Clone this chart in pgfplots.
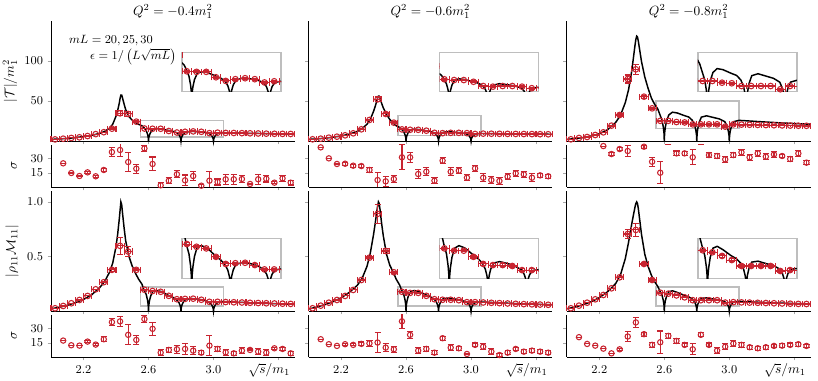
\documentclass[border=0pt]{standalone}
\usepackage{pgfplots}
\usepackage{pgfplotstable}
\pgfplotsset{compat=1.18}
\definecolor{myred}{RGB}{200,36,48}
\definecolor{boxgray}{RGB}{190,190,190}

% ---------- curves (x, value) ----------
\pgfplotstableread[row sep=\\]{x y\\
2.00 2.0\\ 2.05 2.5\\ 2.10 3.2\\ 2.15 4.2\\ 2.20 5.5\\ 2.25 7.0\\ 2.30 9.5\\ 2.33 12.0\\ 2.36 16.0\\ 2.38 21.0\\ 2.40 31.0\\ 2.41 38.0\\ 2.42 47.0\\ 2.425 53.0\\ 2.43 57.5\\ 2.435 57.5\\ 2.44 54.0\\ 2.45 46.0\\ 2.46 39.0\\ 2.48 30.5\\ 2.50 26.0\\ 2.52 23.0\\ 2.54 20.8\\ 2.56 19.0\\
2.572 16.7\\ 2.586 13.0\\ 2.594 8.6\\ 2.598 5.0\\ 2.600 0\\ 2.602 4.3\\ 2.606 7.4\\ 2.614 11.2\\ 2.628 14.4\\ 2.65 15.4\\ 2.68 15.0\\ 2.72 13.3\\ 2.75 12.0\\
2.772 10.5\\ 2.786 8.1\\ 2.794 5.4\\ 2.798 3.2\\ 2.800 0\\ 2.802 3.3\\ 2.806 5.7\\ 2.814 8.5\\ 2.828 11.0\\ 2.86 12.0\\ 2.90 11.7\\ 2.94 11.0\\
2.972 9.6\\ 2.986 7.4\\ 2.994 4.9\\ 2.998 2.9\\ 3.000 0\\ 3.002 2.9\\ 3.006 5.0\\ 3.014 7.6\\ 3.028 9.8\\ 3.06 10.4\\ 3.10 10.2\\ 3.20 9.7\\ 3.30 9.3\\ 3.40 9.0\\ 3.50 8.7\\
}\cTa
\pgfplotstableread[row sep=\\]{x y\\
2.00 2.0\\ 2.05 2.6\\ 2.10 3.5\\ 2.15 4.7\\ 2.20 6.3\\ 2.25 8.5\\ 2.30 12.0\\ 2.33 15.5\\ 2.36 21.0\\ 2.38 27.0\\ 2.40 37.0\\ 2.41 43.0\\ 2.42 50.0\\ 2.425 53.5\\ 2.43 56.0\\ 2.435 56.0\\ 2.44 53.5\\ 2.45 47.0\\ 2.46 41.5\\ 2.48 33.0\\ 2.50 27.0\\ 2.52 22.5\\ 2.54 19.0\\ 2.56 17.0\\
2.572 14.9\\ 2.586 11.5\\ 2.594 7.7\\ 2.598 4.5\\ 2.600 0\\ 2.602 4.2\\ 2.606 7.2\\ 2.614 10.8\\ 2.628 14.0\\ 2.65 14.8\\ 2.68 14.3\\ 2.72 13.0\\ 2.75 12.0\\
2.772 10.4\\ 2.786 8.1\\ 2.794 5.4\\ 2.798 3.1\\ 2.800 0\\ 2.802 3.2\\ 2.806 5.6\\ 2.814 8.4\\ 2.828 10.8\\ 2.86 11.7\\ 2.90 11.0\\ 2.94 10.2\\
2.972 8.9\\ 2.986 6.9\\ 2.994 4.6\\ 2.998 2.7\\ 3.000 0\\ 3.002 2.7\\ 3.006 4.6\\ 3.014 6.8\\ 3.028 8.8\\ 3.06 9.4\\ 3.10 9.3\\ 3.20 9.0\\ 3.30 8.8\\ 3.40 8.6\\ 3.50 8.4\\
}\cTb
\pgfplotstableread[row sep=\\]{x y\\
2.00 2.0\\ 2.05 3.0\\ 2.10 4.3\\ 2.15 6.2\\ 2.20 9.0\\ 2.25 14.0\\ 2.30 23.0\\ 2.33 32.0\\ 2.36 48.0\\ 2.38 64.0\\ 2.40 88.0\\ 2.41 104.0\\ 2.42 120.0\\ 2.425 127.0\\ 2.43 131.0\\ 2.435 130.0\\ 2.44 125.0\\ 2.45 112.0\\ 2.46 99.0\\ 2.48 80.0\\ 2.50 66.0\\ 2.52 54.0\\ 2.54 46.0\\ 2.56 40.0\\
2.572 33.5\\ 2.586 25.9\\ 2.594 17.3\\ 2.598 10.1\\ 2.600 0\\ 2.602 9.8\\ 2.606 16.8\\ 2.614 25.2\\ 2.628 32.6\\ 2.65 36.0\\ 2.68 35.0\\ 2.72 32.0\\ 2.75 30.0\\
2.772 26.0\\ 2.786 20.2\\ 2.794 13.4\\ 2.798 7.8\\ 2.800 0\\ 2.802 9.0\\ 2.806 15.4\\ 2.814 23.0\\ 2.828 29.8\\ 2.86 31.5\\ 2.90 29.5\\ 2.94 27.5\\
2.972 24.2\\ 2.986 18.7\\ 2.994 12.5\\ 2.998 7.3\\ 3.000 0\\ 3.002 7.3\\ 3.006 12.5\\ 3.014 18.7\\ 3.028 24.2\\ 3.06 25.8\\ 3.10 25.3\\ 3.20 24.0\\ 3.30 22.8\\ 3.40 21.8\\ 3.50 21.0\\
}\cTc
\pgfplotstableread[row sep=\\]{x y\\
2.00 0.020\\ 2.05 0.034\\ 2.10 0.052\\ 2.15 0.076\\ 2.20 0.106\\ 2.25 0.148\\ 2.30 0.215\\ 2.33 0.270\\ 2.36 0.355\\ 2.38 0.440\\ 2.40 0.590\\ 2.41 0.700\\ 2.42 0.840\\ 2.425 0.920\\ 2.43 1.000\\ 2.435 0.975\\ 2.44 0.900\\ 2.45 0.760\\ 2.46 0.640\\ 2.48 0.500\\ 2.50 0.410\\ 2.52 0.345\\ 2.54 0.290\\ 2.56 0.245\\
2.572 0.195\\ 2.586 0.151\\ 2.594 0.101\\ 2.598 0.059\\ 2.600 0\\ 2.602 0.055\\ 2.606 0.094\\ 2.614 0.140\\ 2.628 0.181\\ 2.65 0.188\\ 2.68 0.178\\ 2.72 0.145\\ 2.75 0.125\\
2.772 0.104\\ 2.786 0.081\\ 2.794 0.054\\ 2.798 0.031\\ 2.800 0\\ 2.802 0.032\\ 2.806 0.055\\ 2.814 0.082\\ 2.828 0.106\\ 2.86 0.114\\ 2.90 0.110\\ 2.94 0.100\\
2.972 0.082\\ 2.986 0.063\\ 2.994 0.042\\ 2.998 0.025\\ 3.000 0\\ 3.002 0.024\\ 3.006 0.042\\ 3.014 0.063\\ 3.028 0.081\\ 3.06 0.086\\ 3.10 0.083\\ 3.20 0.077\\ 3.30 0.071\\ 3.40 0.066\\ 3.50 0.062\\
}\cRa
\pgfplotstableread[row sep=\\]{x y\\
2.00 0.018\\ 2.05 0.036\\ 2.10 0.058\\ 2.15 0.085\\ 2.20 0.120\\ 2.25 0.170\\ 2.30 0.235\\ 2.33 0.300\\ 2.36 0.410\\ 2.38 0.530\\ 2.40 0.700\\ 2.41 0.800\\ 2.42 0.910\\ 2.425 0.960\\ 2.43 1.000\\ 2.435 0.985\\ 2.44 0.930\\ 2.45 0.800\\ 2.46 0.690\\ 2.48 0.520\\ 2.50 0.420\\ 2.52 0.360\\ 2.54 0.290\\ 2.56 0.240\\
2.572 0.195\\ 2.586 0.151\\ 2.594 0.101\\ 2.598 0.059\\ 2.600 0\\ 2.602 0.053\\ 2.606 0.091\\ 2.614 0.137\\ 2.628 0.177\\ 2.65 0.188\\ 2.68 0.178\\ 2.72 0.150\\ 2.75 0.130\\
2.772 0.110\\ 2.786 0.085\\ 2.794 0.057\\ 2.798 0.033\\ 2.800 0\\ 2.802 0.034\\ 2.806 0.058\\ 2.814 0.086\\ 2.828 0.112\\ 2.86 0.118\\ 2.90 0.110\\ 2.94 0.098\\
2.972 0.082\\ 2.986 0.063\\ 2.994 0.042\\ 2.998 0.025\\ 3.000 0\\ 3.002 0.024\\ 3.006 0.041\\ 3.014 0.061\\ 3.028 0.079\\ 3.06 0.083\\ 3.10 0.080\\ 3.20 0.073\\ 3.30 0.066\\ 3.40 0.061\\ 3.50 0.057\\
}\cRb
\pgfplotstableread[row sep=\\]{x y\\
2.00 0.020\\ 2.05 0.036\\ 2.10 0.057\\ 2.15 0.085\\ 2.20 0.122\\ 2.25 0.175\\ 2.30 0.250\\ 2.33 0.330\\ 2.36 0.480\\ 2.38 0.630\\ 2.40 0.800\\ 2.41 0.880\\ 2.42 0.955\\ 2.425 0.985\\ 2.43 1.000\\ 2.435 0.985\\ 2.44 0.940\\ 2.45 0.820\\ 2.46 0.700\\ 2.48 0.520\\ 2.50 0.410\\ 2.52 0.330\\ 2.54 0.270\\ 2.56 0.225\\
2.572 0.186\\ 2.586 0.144\\ 2.594 0.096\\ 2.598 0.056\\ 2.600 0\\ 2.602 0.053\\ 2.606 0.091\\ 2.614 0.137\\ 2.628 0.177\\ 2.65 0.185\\ 2.68 0.170\\ 2.72 0.145\\ 2.75 0.130\\
2.772 0.110\\ 2.786 0.085\\ 2.794 0.057\\ 2.798 0.033\\ 2.800 0\\ 2.802 0.035\\ 2.806 0.060\\ 2.814 0.090\\ 2.828 0.116\\ 2.86 0.120\\ 2.90 0.110\\ 2.94 0.100\\
2.972 0.086\\ 2.986 0.066\\ 2.994 0.044\\ 2.998 0.026\\ 3.000 0\\ 3.002 0.025\\ 3.006 0.043\\ 3.014 0.065\\ 3.028 0.084\\ 3.06 0.088\\ 3.10 0.085\\ 3.20 0.079\\ 3.30 0.073\\ 3.40 0.068\\ 3.50 0.064\\
}\cRc

% ---------- lattice data (x, value, x error, y error) ----------
\pgfplotstableread[row sep=\\]{x y ex ey\\
2.025 2.0 0.025 0\\ 2.075 2.9 0.025 0\\ 2.125 3.8 0.025 0\\ 2.175 4.6 0.025 0\\ 2.225 6.2 0.025 0\\ 2.275 8.6 0.025 0\\ 2.325 11.0 0.025 0\\ 2.375 15.4 0.025 0.8\\ 2.425 34.6 0.025 3.0\\ 2.475 33.8 0.025 3.0\\
2.525 24.2 0.025 1.0\\ 2.575 15.6 0.025 0.5\\ 2.625 15.3 0.025 0.5\\ 2.675 15.3 0.025 0.5\\ 2.725 12.5 0.025 0.5\\ 2.775 10.6 0.025 0.5\\ 2.825 11.5 0.025 0.5\\ 2.875 12.0 0.025 0.5\\ 2.925 11.5 0.025 0.5\\ 2.975 9.8 0.025 0.5\\
3.025 10.4 0.025 0.5\\ 3.075 10.1 0.025 0.3\\ 3.125 10.0 0.025 0.3\\ 3.175 9.8 0.025 0.3\\ 3.225 9.6 0.025 0.3\\ 3.275 9.4 0.025 0.3\\ 3.325 9.2 0.025 0.3\\ 3.375 9.0 0.025 0.3\\ 3.425 8.9 0.025 0.3\\ 3.475 8.8 0.025 0.3\\
}\dTa
\pgfplotstableread[row sep=\\]{x y ex ey\\
2.025 2.1 0.025 0\\ 2.075 2.9 0.025 0\\ 2.125 4.2 0.025 0\\ 2.175 5.4 0.025 0\\ 2.225 7.1 0.025 0\\ 2.275 9.6 0.025 0\\ 2.325 14.6 0.025 0.5\\ 2.375 26.3 0.025 1.0\\ 2.425 52.0 0.025 3.0\\ 2.475 33.8 0.025 1.5\\
2.525 22.9 0.025 1.0\\ 2.575 14.5 0.025 0.5\\ 2.625 14.0 0.025 0.5\\ 2.675 14.0 0.025 0.5\\ 2.725 12.9 0.025 0.5\\ 2.775 10.2 0.025 0.5\\ 2.825 9.8 0.025 0.5\\ 2.875 10.2 0.025 0.5\\ 2.925 10.2 0.025 0.5\\ 2.975 9.8 0.025 0.5\\
3.025 8.8 0.025 0.5\\ 3.075 9.2 0.025 0.3\\ 3.125 9.1 0.025 0.3\\ 3.175 9.0 0.025 0.3\\ 3.225 8.9 0.025 0.3\\ 3.275 8.8 0.025 0.3\\ 3.325 8.7 0.025 0.3\\ 3.375 8.6 0.025 0.3\\ 3.425 8.5 0.025 0.3\\ 3.475 8.4 0.025 0.3\\
}\dTb
\pgfplotstableread[row sep=\\]{x y ex ey\\
2.025 2.1 0.025 0\\ 2.075 3.8 0.025 0\\ 2.125 5.0 0.025 0\\ 2.175 7.5 0.025 0\\ 2.225 10.8 0.025 0\\ 2.275 19.2 0.025 0.5\\ 2.325 32.5 0.025 2.0\\ 2.375 77.5 0.025 5.0\\ 2.425 89.6 0.025 6.0\\ 2.475 55.4 0.025 2.0\\
2.525 40.8 0.025 1.5\\ 2.575 25.2 0.025 0.8\\ 2.625 25.2 0.025 0.8\\ 2.675 23.7 0.025 0.8\\ 2.725 23.2 0.025 0.8\\ 2.775 20.8 0.025 0.8\\ 2.825 20.8 0.025 0.8\\ 2.875 20.8 0.025 0.8\\ 2.925 20.8 0.025 0.8\\ 2.975 18.0 0.025 0.8\\
3.025 20.8 0.025 0.8\\ 3.075 20.5 0.025 0.5\\ 3.125 20.3 0.025 0.5\\ 3.175 20.1 0.025 0.5\\ 3.225 19.9 0.025 0.5\\ 3.275 19.7 0.025 0.5\\ 3.325 19.5 0.025 0.5\\ 3.375 19.3 0.025 0.5\\ 3.425 19.1 0.025 0.5\\ 3.475 19.0 0.025 0.5\\
}\dTc
\pgfplotstableread[row sep=\\]{x y ex ey\\
2.025 0.025 0.025 0\\ 2.075 0.046 0.025 0\\ 2.125 0.071 0.025 0\\ 2.175 0.101 0.025 0\\ 2.225 0.138 0.025 0\\ 2.275 0.199 0.025 0\\ 2.325 0.264 0.025 0.005\\ 2.375 0.377 0.025 0.015\\ 2.425 0.597 0.025 0.075\\ 2.475 0.545 0.025 0.045\\
2.525 0.377 0.025 0.010\\ 2.575 0.195 0.025 0.005\\ 2.625 0.183 0.025 0.005\\ 2.675 0.176 0.025 0.005\\ 2.725 0.139 0.025 0.005\\ 2.775 0.108 0.025 0.005\\ 2.825 0.111 0.025 0.005\\ 2.875 0.113 0.025 0.005\\ 2.925 0.103 0.025 0.005\\ 2.975 0.084 0.025 0.005\\
3.025 0.084 0.025 0.005\\ 3.075 0.082 0.025 0.003\\ 3.125 0.080 0.025 0.003\\ 3.175 0.078 0.025 0.003\\ 3.225 0.075 0.025 0.003\\ 3.275 0.073 0.025 0.003\\ 3.325 0.071 0.025 0.003\\ 3.375 0.069 0.025 0.003\\ 3.425 0.067 0.025 0.003\\ 3.475 0.065 0.025 0.003\\
}\dRa
\pgfplotstableread[row sep=\\]{x y ex ey\\
2.025 0.025 0.025 0\\ 2.075 0.049 0.025 0\\ 2.125 0.076 0.025 0\\ 2.175 0.101 0.025 0\\ 2.225 0.138 0.025 0\\ 2.275 0.193 0.025 0\\ 2.325 0.284 0.025 0.005\\ 2.375 0.489 0.025 0.010\\ 2.425 0.890 0.025 0.090\\ 2.475 0.550 0.025 0.020\\
2.525 0.355 0.025 0.010\\ 2.575 0.176 0.025 0.005\\ 2.625 0.166 0.025 0.005\\ 2.675 0.166 0.025 0.005\\ 2.725 0.139 0.025 0.005\\ 2.775 0.108 0.025 0.005\\ 2.825 0.103 0.025 0.005\\ 2.875 0.103 0.025 0.005\\ 2.925 0.099 0.025 0.005\\ 2.975 0.081 0.025 0.005\\
3.025 0.081 0.025 0.005\\ 3.075 0.078 0.025 0.003\\ 3.125 0.075 0.025 0.003\\ 3.175 0.072 0.025 0.003\\ 3.225 0.069 0.025 0.003\\ 3.275 0.066 0.025 0.003\\ 3.325 0.063 0.025 0.003\\ 3.375 0.061 0.025 0.003\\ 3.425 0.059 0.025 0.003\\ 3.475 0.057 0.025 0.003\\
}\dRb
\pgfplotstableread[row sep=\\]{x y ex ey\\
2.025 0.025 0.025 0\\ 2.075 0.049 0.025 0\\ 2.125 0.076 0.025 0\\ 2.175 0.107 0.025 0\\ 2.225 0.147 0.025 0\\ 2.275 0.208 0.025 0\\ 2.325 0.309 0.025 0.005\\ 2.375 0.706 0.025 0.040\\ 2.425 0.743 0.025 0.060\\ 2.475 0.431 0.025 0.015\\
2.525 0.284 0.025 0.010\\ 2.575 0.168 0.025 0.005\\ 2.625 0.159 0.025 0.005\\ 2.675 0.143 0.025 0.005\\ 2.725 0.125 0.025 0.005\\ 2.775 0.099 0.025 0.005\\ 2.825 0.099 0.025 0.005\\ 2.875 0.099 0.025 0.005\\ 2.925 0.099 0.025 0.005\\ 2.975 0.077 0.025 0.005\\
3.025 0.081 0.025 0.005\\ 3.075 0.079 0.025 0.003\\ 3.125 0.077 0.025 0.003\\ 3.175 0.075 0.025 0.003\\ 3.225 0.073 0.025 0.003\\ 3.275 0.071 0.025 0.003\\ 3.325 0.069 0.025 0.003\\ 3.375 0.067 0.025 0.003\\ 3.425 0.065 0.025 0.003\\ 3.475 0.064 0.025 0.003\\
}\dRc

% ---------- sigma (x, value, error) ----------
\pgfplotstableread[row sep=\\]{x y ey\\
2.075 25.2 0\\ 2.125 14.9 0\\ 2.175 11.7 0\\ 2.225 15.6 1.0\\ 2.275 11.4 1.0\\ 2.325 18.1 2.0\\ 2.375 37.2 4.4\\ 2.425 39.4 6.6\\ 2.475 26.6 10.0\\ 2.525 19.5 4.8\\
2.575 41.1 3.0\\ 2.625 24.5 7.4\\ 2.675 1.8 2.5\\ 2.725 6.7 3.2\\ 2.775 13.5 3.7\\ 2.825 7.1 5.7\\ 2.875 11.7 5.1\\ 2.925 1.4 1.5\\ 2.975 6.7 10.0\\ 3.025 5.3 3.2\\
3.075 8.2 5.1\\ 3.125 8.2 5.1\\ 3.175 8.5 3.9\\ 3.225 3.2 1.0\\ 3.275 8.2 5.3\\ 3.325 8.8 3.5\\ 3.375 4.6 1.0\\ 3.425 9.2 3.0\\ 3.475 4.6 2.5\\
}\sTa
\pgfplotstableread[row sep=\\]{x y ey\\
2.075 42.2 0\\ 2.125 30.5 0\\ 2.175 24.5 0\\ 2.225 24.8 1.5\\ 2.275 22.7 1.5\\ 2.325 22.3 2.0\\ 2.375 18.1 2.5\\ 2.425 7.4 8.5\\ 2.475 6.0 5.3\\ 2.525 8.5 3.5\\
2.575 31.6 13.3\\ 2.625 31.6 5.3\\ 2.675 13.8 4.5\\ 2.725 16.3 4.0\\ 2.775 6.7 3.0\\ 2.825 28.0 3.0\\ 2.875 16.3 4.0\\ 2.925 17.4 3.0\\ 2.975 9.9 3.0\\ 3.025 19.9 3.0\\
3.075 9.9 4.0\\ 3.125 7.4 4.0\\ 3.175 6.4 4.0\\ 3.225 11.0 3.0\\ 3.275 14.5 3.0\\ 3.325 13.5 3.0\\ 3.375 9.9 4.0\\ 3.425 12.4 2.0\\ 3.475 11.4 2.0\\
}\sTb
\pgfplotstableread[row sep=\\]{x y ey\\
2.075 56.0 0\\ 2.125 52.0 0\\ 2.175 48.0 0\\ 2.225 43.6 0\\ 2.275 35.1 1.5\\ 2.325 40.4 1.5\\ 2.375 38.3 6.0\\ 2.425 52.0 3.0\\ 2.475 42.9 1.5\\ 2.525 26.9 4.6\\
2.575 15.2 11.9\\ 2.625 49.0 4.0\\ 2.675 35.8 2.5\\ 2.725 35.8 2.0\\ 2.775 31.6 8.0\\ 2.825 49.0 4.0\\ 2.875 34.0 3.0\\ 2.925 33.0 3.0\\ 2.975 29.4 3.0\\ 3.025 34.0 3.0\\
3.075 36.9 3.0\\ 3.125 31.6 3.0\\ 3.175 35.8 3.0\\ 3.225 32.3 3.0\\ 3.275 34.7 3.0\\ 3.325 33.0 2.0\\ 3.375 29.8 3.0\\ 3.425 35.8 3.0\\ 3.475 25.9 2.0\\
}\sTc
\pgfplotstableread[row sep=\\]{x y ey\\
2.075 17.5 0\\ 2.125 12.5 0\\ 2.175 12.1 0\\ 2.225 16.4 1.0\\ 2.275 13.2 1.0\\ 2.325 18.9 2.5\\ 2.375 37.1 4.0\\ 2.425 37.9 5.0\\ 2.475 23.6 10.7\\ 2.525 18.2 5.0\\
2.575 40.4 4.0\\ 2.625 30.0 7.0\\ 2.675 4.6 3.0\\ 2.725 7.5 3.0\\ 2.775 8.2 4.0\\ 2.825 8.6 6.0\\ 2.875 6.8 4.0\\ 2.925 4.6 2.0\\ 2.975 12.1 10.7\\ 3.025 8.6 3.0\\
3.075 5.0 3.0\\ 3.125 3.9 2.0\\ 3.175 6.8 3.0\\ 3.225 7.5 1.0\\ 3.275 5.7 3.0\\ 3.325 4.6 3.0\\ 3.375 9.3 1.0\\ 3.425 8.6 2.0\\ 3.475 3.9 2.0\\
}\sRa
\pgfplotstableread[row sep=\\]{x y ey\\
2.075 18.9 0\\ 2.125 13.6 0\\ 2.175 11.8 0\\ 2.225 13.6 1.0\\ 2.275 12.9 1.0\\ 2.325 14.0 2.0\\ 2.375 14.6 3.0\\ 2.425 15.4 10.7\\ 2.475 10.0 4.0\\ 2.525 8.2 3.0\\
2.575 38.0 8.0\\ 2.625 23.6 4.0\\ 2.675 6.8 3.0\\ 2.725 8.6 3.0\\ 2.775 4.6 2.0\\ 2.825 20.0 2.0\\ 2.875 10.0 3.0\\ 2.925 9.3 2.0\\ 2.975 3.2 1.0\\ 3.025 12.9 2.0\\
3.075 11.0 3.0\\ 3.125 5.7 3.0\\ 3.175 2.1 2.0\\ 3.225 4.6 2.0\\ 3.275 8.6 2.0\\ 3.325 5.7 2.0\\ 3.375 6.8 2.0\\ 3.425 5.7 2.0\\ 3.475 4.6 2.0\\
}\sRb
\pgfplotstableread[row sep=\\]{x y ey\\
2.075 21.1 0\\ 2.125 13.9 0\\ 2.175 12.1 0\\ 2.225 8.9 0\\ 2.275 3.9 0\\ 2.325 8.2 1.0\\ 2.375 21.8 5.0\\ 2.425 36.8 5.0\\ 2.475 24.3 2.0\\ 2.525 12.9 3.0\\
2.575 15.7 12.0\\ 2.625 22.5 3.0\\ 2.675 17.1 3.0\\ 2.725 12.9 2.0\\ 2.775 8.2 6.0\\ 2.825 23.6 2.0\\ 2.875 12.9 2.0\\ 2.925 6.8 3.0\\ 2.975 11.0 3.0\\ 3.025 14.3 3.0\\
3.075 12.9 3.0\\ 3.125 10.4 2.0\\ 3.175 9.3 2.0\\ 3.225 10.4 2.0\\ 3.275 11.8 2.0\\ 3.325 12.1 2.0\\ 3.375 12.9 2.0\\ 3.425 13.6 2.0\\ 3.475 11.8 2.0\\
}\sRc

\pgfplotsset{
  base/.style={scale only axis, width=182.8pt, xmin=2, xmax=3.5, anchor=south west,
    axis x line*=bottom, axis y line*=left,
    axis line style={black, line width=0.6pt},
    xtick={2.2,2.6,3.0,3.4}, xticklabels={},
    tick align=outside, major tick length=2.5pt,
    tick style={gray!70, line width=0.5pt},
    tick label style={font=\fontsize{9}{10}\selectfont},
    label style={font=\fontsize{10}{12}\selectfont}},
  mainT/.style={base, height=90pt, ymin=0, ymax=150, ytick={50,100}, clip=false},
  mainR/.style={base, height=90pt, ymin=0, ymax=1.1, ytick={0.5,1.0}, clip=false,
    yticklabel style={/pgf/number format/.cd, fixed, fixed zerofill, precision=1}},
  sig/.style={base, height=31.7pt, ymin=0, ymax=45, ytick={15,30}},
  bottomrow/.style={xticklabels={2.2,2.6,3.0,{}}, xlabel={$\sqrt{s}/m_1$},
    xlabel style={at={(axis description cs:1,0)}, anchor=north east, yshift=-1pt}},
  ins/.style={scale only axis, width=74.25pt, anchor=south west, ticks=none,
    axis line style={boxgray, line width=1.1pt}},
  curve/.style={black, line width=1.1pt, no marks},
  dat/.style={only marks, color=myred, mark=o, mark size=2.1pt,
    mark options={fill=white, line width=0.8pt},
    error bars/.cd, x dir=both, x explicit, y dir=both, y explicit,
    error bar style={line width=0.8pt},
    error mark options={rotate=90, mark size=2.3pt, line width=0.8pt}},
  sdat/.style={only marks, color=myred, mark=o, mark size=2.0pt,
    mark options={fill=white, line width=0.8pt},
    error bars/.cd, y dir=both, y explicit,
    error bar style={line width=0.8pt},
    error mark options={rotate=90, mark size=2.3pt, line width=0.8pt}},
}
\newcommand{\coltitle}[1]{\node[font=\fontsize{10}{12}\selectfont, anchor=base, inner sep=0pt]
  at ([yshift=4pt]rel axis cs:0.5,1) {#1};}

\begin{document}
\begin{tikzpicture}
\useasboundingbox (0,0) rectangle (613.5pt,285.75pt);

% ================= column 1 =================
\begin{axis}[mainT, at={(38.25pt,180pt)},
  ylabel={$|\mathcal{T}|/m_1^2$}, ylabel style={at={(axis description cs:-0.168,0.5)}, anchor=center}]
\draw[boxgray, line width=1.1pt] (axis cs:2.55,5) rectangle (axis cs:3.06,25.4);
\addplot[curve] table {\cTa};
\addplot[dat] table[x=x, y=y, x error=ex, y error=ey] {\dTa};
\coltitle{$Q^2=-0.4m_1^2$}
\node[font=\fontsize{9}{10}\selectfont, anchor=east, inner sep=0pt] at (axis cs:2.628,125) {$mL=20,25,30$};
\node[font=\fontsize{9}{10}\selectfont, anchor=east, inner sep=0pt] at (axis cs:2.772,105.4) {$\epsilon=1/\left(L\sqrt{mL}\right)$};
\end{axis}
\begin{axis}[ins, at={(136.5pt,217pt)}, height=29.4pt, xmin=2.55, xmax=3.06, ymin=5, ymax=25.4]
\addplot[curve] table {\cTa};
\addplot[dat] table[x=x, y=y, x error=ex, y error=ey] {\dTa};
\end{axis}
\begin{axis}[sig, at={(38.25pt,145.5pt)}, ylabel={$\sigma$},
  ylabel style={at={(axis description cs:-0.152,0.5)}, anchor=center}]
\addplot[sdat] table[x=x, y=y, y error=ey] {\sTa};
\end{axis}
\begin{axis}[mainR, at={(38.25pt,52.5pt)}, ylabel={$|\rho_{11}\mathcal{M}_{11}|$},
  ylabel style={at={(axis description cs:-0.16,0.5)}, anchor=center}]
\draw[boxgray, line width=1.1pt] (axis cs:2.55,0.045) rectangle (axis cs:3.06,0.22);
\addplot[curve] table {\cRa};
\addplot[dat] table[x=x, y=y, x error=ex, y error=ey] {\dRa};
\end{axis}
\begin{axis}[ins, at={(136.5pt,77pt)}, height=30pt, xmin=2.55, xmax=3.06, ymin=0.045, ymax=0.22]
\addplot[curve] table {\cRa};
\addplot[dat] table[x=x, y=y, x error=ex, y error=ey] {\dRa};
\end{axis}
\begin{axis}[sig, bottomrow, at={(38.25pt,18pt)}, ylabel={$\sigma$},
  ylabel style={at={(axis description cs:-0.152,0.5)}, anchor=center}]
\addplot[sdat] table[x=x, y=y, y error=ey] {\sRa};
\end{axis}

% ================= column 2 =================
\begin{axis}[mainT, at={(231.4pt,180pt)}, yticklabels={}]
\draw[boxgray, line width=1.1pt] (axis cs:2.55,6.6) rectangle (axis cs:3.06,31.6);
\addplot[curve] table {\cTb};
\addplot[dat] table[x=x, y=y, x error=ex, y error=ey] {\dTb};
\coltitle{$Q^2=-0.6m_1^2$}
\end{axis}
\begin{axis}[ins, at={(329.65pt,217pt)}, height=29.4pt, xmin=2.55, xmax=3.06, ymin=6.6, ymax=31.6]
\addplot[curve] table {\cTb};
\addplot[dat] table[x=x, y=y, x error=ex, y error=ey] {\dTb};
\end{axis}
\begin{axis}[sig, at={(231.4pt,145.5pt)}, yticklabels={}]
\addplot[sdat] table[x=x, y=y, y error=ey] {\sTb};
\end{axis}
\begin{axis}[mainR, at={(231.4pt,52.5pt)}, yticklabels={}]
\draw[boxgray, line width=1.1pt] (axis cs:2.55,0.045) rectangle (axis cs:3.06,0.22);
\addplot[curve] table {\cRb};
\addplot[dat] table[x=x, y=y, x error=ex, y error=ey] {\dRb};
\end{axis}
\begin{axis}[ins, at={(329.65pt,77pt)}, height=30pt, xmin=2.55, xmax=3.06, ymin=0.045, ymax=0.22]
\addplot[curve] table {\cRb};
\addplot[dat] table[x=x, y=y, x error=ex, y error=ey] {\dRb};
\end{axis}
\begin{axis}[sig, bottomrow, at={(231.4pt,18pt)}, yticklabels={}]
\addplot[sdat] table[x=x, y=y, y error=ey] {\sRb};
\end{axis}

% ================= column 3 =================
\begin{axis}[mainT, at={(425.1pt,180pt)}, yticklabels={}]
\draw[boxgray, line width=1.1pt] (axis cs:2.55,15.9) rectangle (axis cs:3.06,50);
\addplot[curve] table {\cTc};
\addplot[dat] table[x=x, y=y, x error=ex, y error=ey] {\dTc};
\coltitle{$Q^2=-0.8m_1^2$}
\end{axis}
\begin{axis}[ins, at={(523.35pt,217pt)}, height=29.4pt, xmin=2.55, xmax=3.06, ymin=15.9, ymax=50]
\addplot[curve] table {\cTc};
\addplot[dat] table[x=x, y=y, x error=ex, y error=ey] {\dTc};
\end{axis}
\begin{axis}[sig, at={(425.1pt,145.5pt)}, yticklabels={}]
\addplot[sdat] table[x=x, y=y, y error=ey] {\sTc};
\end{axis}
\begin{axis}[mainR, at={(425.1pt,52.5pt)}, yticklabels={}]
\draw[boxgray, line width=1.1pt] (axis cs:2.55,0.045) rectangle (axis cs:3.06,0.22);
\addplot[curve] table {\cRc};
\addplot[dat] table[x=x, y=y, x error=ex, y error=ey] {\dRc};
\end{axis}
\begin{axis}[ins, at={(523.35pt,77pt)}, height=30pt, xmin=2.55, xmax=3.06, ymin=0.045, ymax=0.22]
\addplot[curve] table {\cRc};
\addplot[dat] table[x=x, y=y, x error=ex, y error=ey] {\dRc};
\end{axis}
\begin{axis}[sig, bottomrow, at={(425.1pt,18pt)}, yticklabels={}]
\addplot[sdat] table[x=x, y=y, y error=ey] {\sRc};
\end{axis}
\end{tikzpicture}
\end{document}
